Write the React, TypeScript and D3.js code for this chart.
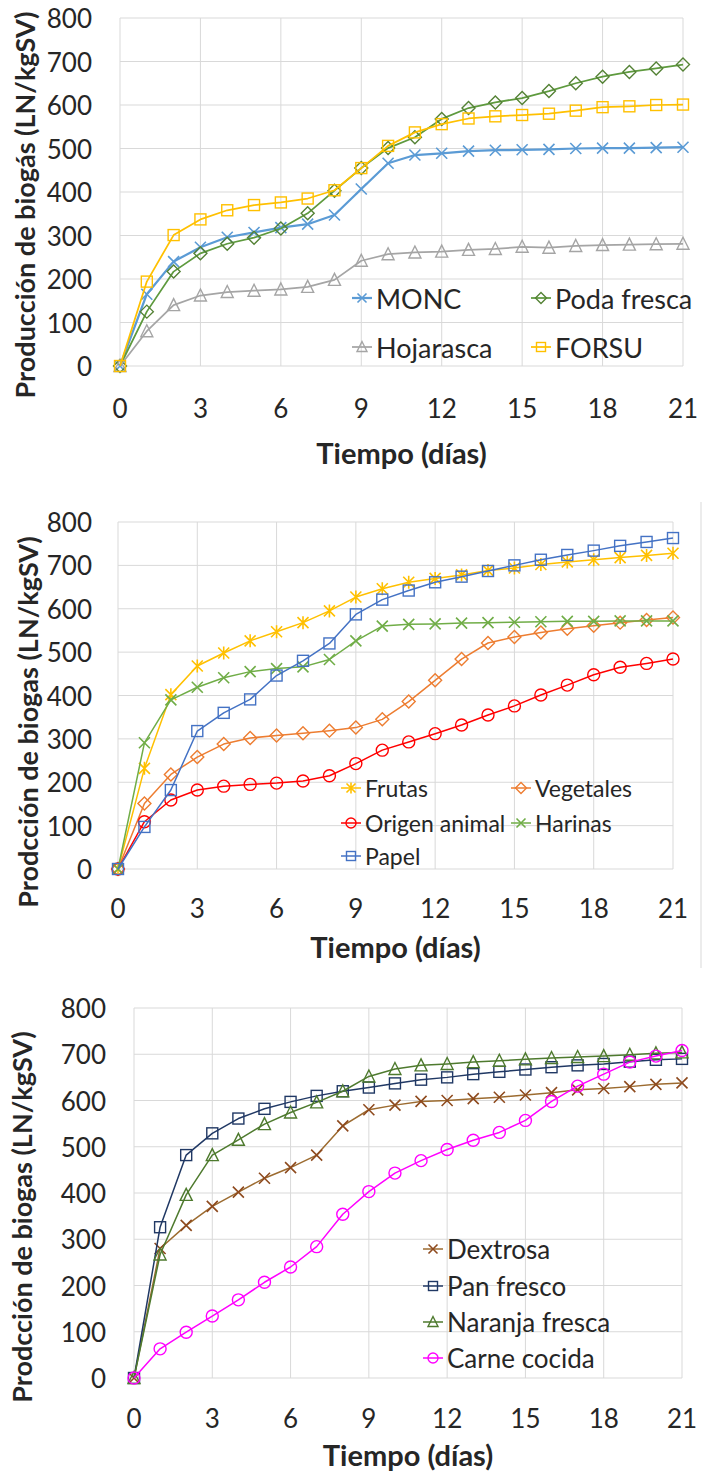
import React from 'react';
import * as d3 from 'd3';

// ---- shared axes ----
const DAYS = [0, 1, 2, 3, 4, 5, 6, 7, 8, 9, 10, 11, 12, 13, 14, 15, 16, 17, 18, 19, 20, 21];
const X_TICKS = [0, 3, 6, 9, 12, 15, 18, 21];
const Y_TICKS = [0, 100, 200, 300, 400, 500, 600, 700, 800];

// ---- panel 1: residuos de poda / FORSU ----
const MONC = [0, 165, 240, 273, 296, 307, 318, 326, 347, 407, 466, 485, 489, 494, 496, 497, 498, 500, 501, 501, 502, 503];
const PODA_FRESCA = [0, 125, 217, 259, 281, 295, 316, 351, 403, 455, 501, 526, 568, 593, 606, 616, 632, 650, 665, 676, 684, 693];
const HOJARASCA = [0, 80, 140, 162, 170, 173, 176, 182, 198, 242, 257, 261, 263, 267, 269, 274, 272, 276, 278, 279, 280, 281];
const FORSU = [0, 194, 301, 337, 358, 370, 376, 385, 404, 455, 506, 537, 556, 569, 574, 577, 580, 587, 595, 597, 600, 601];

// ---- panel 2: fracciones de la FORSU ----
const FRUTAS = [0, 232, 402, 468, 498, 526, 547, 568, 595, 627, 646, 661, 670, 678, 688, 694, 702, 708, 713, 718, 723, 728];
const VEGETALES = [0, 151, 218, 258, 288, 302, 308, 313, 319, 326, 345, 386, 435, 484, 521, 535, 545, 554, 561, 568, 574, 580];
const ORIGEN_ANIMAL = [0, 109, 159, 182, 191, 195, 198, 203, 215, 243, 274, 293, 312, 332, 355, 376, 401, 424, 448, 465, 474, 484];
const HARINAS = [0, 291, 390, 419, 441, 455, 462, 466, 483, 526, 560, 564, 565, 567, 568, 569, 570, 571, 571, 572, 572, 572];
const PAPEL = [0, 97, 182, 318, 360, 391, 446, 480, 520, 587, 621, 642, 661, 674, 687, 700, 713, 724, 734, 745, 754, 763];

// ---- panel 3: sustratos de referencia ----
const DEXTROSA = [0, 280, 330, 371, 402, 432, 455, 482, 545, 580, 590, 598, 600, 604, 607, 612, 617, 623, 626, 630, 635, 638];
const PAN_FRESCO = [0, 326, 482, 529, 561, 582, 597, 610, 620, 628, 637, 645, 650, 657, 662, 667, 672, 676, 679, 684, 688, 690];
const NARANJA_FRESCA = [0, 267, 396, 482, 515, 549, 574, 596, 620, 652, 668, 676, 679, 683, 686, 689, 692, 694, 696, 699, 702, 704];
const CARNE_COCIDA = [0, 63, 99, 134, 169, 207, 240, 284, 354, 403, 443, 470, 494, 514, 531, 557, 598, 631, 657, 683, 696, 708];

type Shape = 'x' | 'diamond' | 'triangle' | 'square' | 'star' | 'circle';

interface Series {
  name: string;
  values: number[];
  color: string;
  marker: string;
  shape: Shape;
  width: number;
}

interface Panel {
  yTitle: string;
  x0: number;
  x1: number;
  yTop: number;
  yBottom: number;
  tickRight: number;
  xLabelY: number;
  xTitleY: number;
  yTitleX: number;
  yTitleY: number;
  legendFont: number;
  legend: { x: number; y: number }[];
  series: Series[];
}

const FONT = 'Lato, "Open Sans", sans-serif';
const TEXT = '#262626';
const GRID = '#d9d9d9';

const panels: Panel[] = [
  {
    yTitle: 'Producción de biogás (LN/kgSV)',
    x0: 120, x1: 683, yTop: 18, yBottom: 366,
    tickRight: 92, xLabelY: 408, xTitleY: 452, yTitleX: 24, yTitleY: 205,
    legendFont: 27,
    legend: [{ x: 362, y: 298 }, { x: 541, y: 298 }, { x: 362, y: 347 }, { x: 541, y: 347 }],
    series: [
      { name: 'MONC', values: MONC, color: '#5B9BD5', marker: '#5B9BD5', shape: 'x', width: 2.25 },
      { name: 'Poda fresca', values: PODA_FRESCA, color: '#5E9A3E', marker: '#548235', shape: 'diamond', width: 1.75 },
      { name: 'Hojarasca', values: HOJARASCA, color: '#A5A5A5', marker: '#A5A5A5', shape: 'triangle', width: 1.75 },
      { name: 'FORSU', values: FORSU, color: '#FFC000', marker: '#FFC000', shape: 'square', width: 1.75 },
    ],
  },
  {
    yTitle: 'Prodcción de biogas (LN/kgSV)',
    x0: 118, x1: 673, yTop: 522, yBottom: 869,
    tickRight: 92, xLabelY: 908, xTitleY: 946, yTitleX: 27, yTitleY: 722,
    legendFont: 23,
    legend: [{ x: 351, y: 788 }, { x: 521, y: 788 }, { x: 351, y: 823 }, { x: 521, y: 823 }, { x: 351, y: 856 }],
    series: [
      { name: 'Frutas', values: FRUTAS, color: '#FFC000', marker: '#FFC000', shape: 'star', width: 1.5 },
      { name: 'Vegetales', values: VEGETALES, color: '#ED7D31', marker: '#ED7D31', shape: 'diamond', width: 1.5 },
      { name: 'Origen animal', values: ORIGEN_ANIMAL, color: '#FF0000', marker: '#FF0000', shape: 'circle', width: 1.5 },
      { name: 'Harinas', values: HARINAS, color: '#70AD47', marker: '#70AD47', shape: 'x', width: 1.5 },
      { name: 'Papel', values: PAPEL, color: '#4472C4', marker: '#4472C4', shape: 'square', width: 1.5 },
    ],
  },
  {
    yTitle: 'Prodcción de biogas (LN/kgSV)',
    x0: 134, x1: 682, yTop: 1008, yBottom: 1378,
    tickRight: 106, xLabelY: 1418, xTitleY: 1454, yTitleX: 21, yTitleY: 1217,
    legendFont: 26,
    legend: [{ x: 433, y: 1249 }, { x: 433, y: 1286 }, { x: 433, y: 1322 }, { x: 433, y: 1358 }],
    series: [
      { name: 'Dextrosa', values: DEXTROSA, color: '#9C6B30', marker: '#8E4A1E', shape: 'x', width: 1.5 },
      { name: 'Pan fresco', values: PAN_FRESCO, color: '#203864', marker: '#203864', shape: 'square', width: 1.5 },
      { name: 'Naranja fresca', values: NARANJA_FRESCA, color: '#4E7A2E', marker: '#4E7A2E', shape: 'triangle', width: 1.5 },
      { name: 'Carne cocida', values: CARNE_COCIDA, color: '#FF00FF', marker: '#FF00FF', shape: 'circle', width: 1.5 },
    ],
  },
];

function Marker({ shape, x, y, color, size = 11 }: { shape: Shape; x: number; y: number; color: string; size?: number }) {
  const r = size / 2;
  const common = { fill: 'none', stroke: color, strokeWidth: 1.4 };
  switch (shape) {
    case 'square':
      return <rect x={x - r} y={y - r} width={size} height={size} {...common} />;
    case 'circle':
      return <circle cx={x} cy={y} r={r + 0.5} {...common} />;
    case 'diamond': {
      const d = r + 1;
      return <path d={`M${x},${y - d}L${x + d},${y}L${x},${y + d}L${x - d},${y}Z`} {...common} />;
    }
    case 'triangle':
      return <path d={`M${x},${y - r - 1}L${x + r + 0.5},${y + r}L${x - r - 0.5},${y + r}Z`} {...common} />;
    case 'x':
      return <path d={`M${x - r},${y - r}L${x + r},${y + r}M${x - r},${y + r}L${x + r},${y - r}`} {...common} strokeWidth={1.6} />;
    case 'star':
      return (
        <path
          d={`M${x - r},${y - r}L${x + r},${y + r}M${x - r},${y + r}L${x + r},${y - r}M${x},${y - r - 1}L${x},${y + r + 1}`}
          {...common}
          strokeWidth={1.6}
        />
      );
  }
  return null;
}

function ChartPanel({ p }: { p: Panel }) {
  const x = d3.scaleLinear().domain([0, 21]).range([p.x0, p.x1]);
  const y = d3.scaleLinear().domain([0, 800]).range([p.yBottom, p.yTop]);
  const line = d3.line<number>().x((_, i) => x(DAYS[i])).y((v) => y(v));

  return (
    <g>
      {/* grid */}
      {Y_TICKS.map((t) => (
        <line key={`h${t}`} x1={p.x0} x2={p.x1} y1={y(t)} y2={y(t)} stroke={GRID} strokeWidth={1} />
      ))}
      {X_TICKS.map((t) => (
        <line key={`v${t}`} x1={x(t)} x2={x(t)} y1={p.yTop} y2={p.yBottom} stroke={GRID} strokeWidth={1} />
      ))}

      {/* tick labels */}
      {Y_TICKS.map((t) => (
        <text key={`yl${t}`} x={p.tickRight} y={y(t)} textAnchor="end" dominantBaseline="central"
          fontFamily={FONT} fontSize={26} fill={TEXT}>{t}</text>
      ))}
      {X_TICKS.map((t) => (
        <text key={`xl${t}`} x={x(t)} y={p.xLabelY} textAnchor="middle" dominantBaseline="central"
          fontFamily={FONT} fontSize={26} fill={TEXT}>{t}</text>
      ))}

      {/* axis titles */}
      <text x={(p.x0 + p.x1) / 2} y={p.xTitleY} textAnchor="middle" dominantBaseline="central"
        fontFamily={FONT} fontWeight="bold" fontSize={29} fill={TEXT}>Tiempo (días)</text>
      <text transform={`translate(${p.yTitleX},${p.yTitleY}) rotate(-90)`} textAnchor="middle" dominantBaseline="central"
        fontFamily={FONT} fontWeight="bold" fontSize={27} fill={TEXT}>{p.yTitle}</text>

      {/* series */}
      {p.series.map((s) => (
        <g key={s.name}>
          <path d={line(s.values) || ''} fill="none" stroke={s.color} strokeWidth={s.width} strokeLinejoin="round" />
          {s.values.map((v, i) => (
            <Marker key={i} shape={s.shape} x={x(DAYS[i])} y={y(v)} color={s.marker} />
          ))}
        </g>
      ))}

      {/* legend */}
      {p.series.map((s, i) => {
        const pos = p.legend[i];
        return (
          <g key={`lg${s.name}`}>
            <line x1={pos.x - 10} x2={pos.x + 10} y1={pos.y} y2={pos.y} stroke={s.color} strokeWidth={s.width} />
            <Marker shape={s.shape} x={pos.x} y={pos.y} color={s.marker} size={9} />
            <text x={pos.x + 14} y={pos.y} dominantBaseline="central" fontFamily={FONT}
              fontSize={p.legendFont} fill={TEXT}>{s.name}</text>
          </g>
        );
      })}
    </g>
  );
}

export default function App() {
  return (
    <div style={{ position: 'absolute', left: 0, top: 0 }}>
      <svg width={706} height={1471} viewBox="0 0 706 1471" style={{ display: 'block', background: '#fff' }}>
        <rect x={0} y={0} width={706} height={1471} fill="#fff" />
        {/* frame edge of the middle chart */}
        <line x1={701} x2={701} y1={502} y2={968} stroke={GRID} strokeWidth={1} />
        {panels.map((p, i) => (
          <ChartPanel key={i} p={p} />
        ))}
      </svg>
    </div>
  );
}
